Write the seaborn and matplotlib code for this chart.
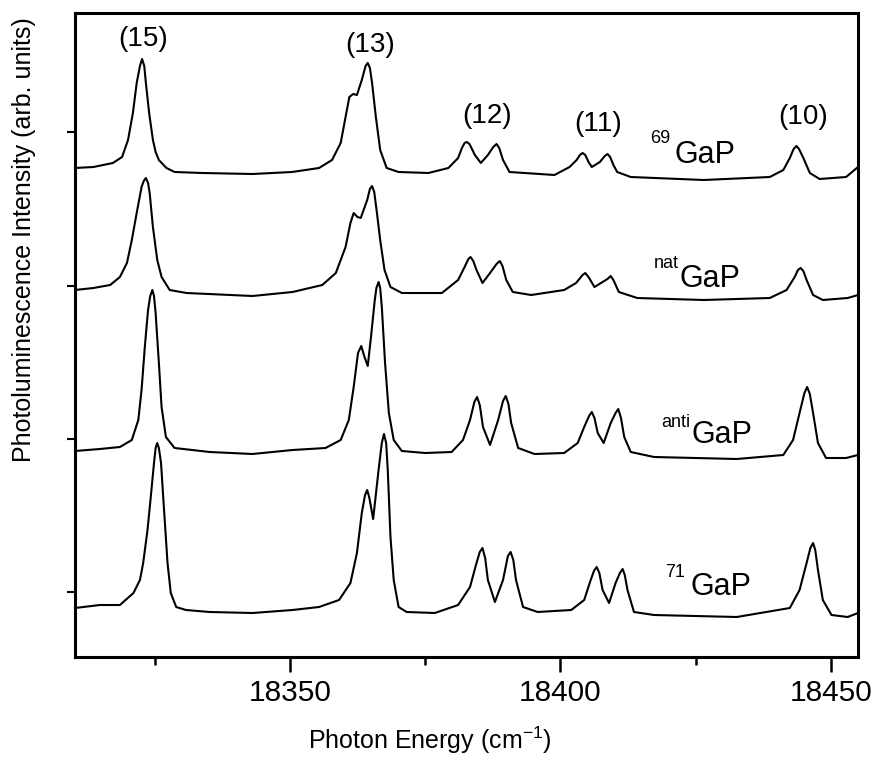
"""
plot.py
----------------------------------
Stacked photoluminescence spectra of isotopically different GaP
samples (69GaP, natGaP, antiGaP, 71GaP) with the bound-exciton
lines (15) ... (10) labelled.
"""

import pandas as pd
import matplotlib
matplotlib.use("Agg")
import matplotlib.pyplot as plt
from matplotlib.ticker import MultipleLocator
import seaborn as sns

# --------------------------------------------------------------------------
# Data (intensity in arb. units above each baseline)
# --------------------------------------------------------------------------
SAMPLES = ["69", "nat", "anti", "71"]
OFFSETS = [487, 365, 206, 49]

E_69 = [18310.3, 18313.7, 18317.3, 18319.0, 18320.1, 18321.0, 18321.7, 18322.3, 18322.7, 18323.1,
        18323.4, 18324.0, 18324.7, 18325.2, 18325.8, 18327.2, 18328.7, 18333.9, 18343.1, 18350.4,
        18355.4, 18357.8, 18359.4, 18360.3, 18361.0, 18361.7, 18362.4, 18363.3, 18364.0, 18364.4,
        18364.8, 18365.2, 18365.9, 18366.7, 18367.9, 18370.1, 18375.6, 18379.3, 18381.1, 18381.8,
        18382.3, 18382.7, 18383.2, 18384.2, 18385.3, 18386.6, 18387.6, 18388.2, 18388.7, 18389.4,
        18390.6, 18393.4, 18398.9, 18401.7, 18403.0, 18403.6, 18404.1, 18404.6, 18405.2, 18405.8,
        18407.3, 18408.2, 18408.7, 18409.2, 18409.8, 18410.5, 18413.0, 18426.5, 18438.7, 18441.2,
        18442.4, 18443.1, 18443.6, 18444.1, 18444.9, 18446.1, 18447.9, 18452.8, 18455.0]
I_69 = [2, 3, 7, 13, 30, 57, 87, 104, 111, 104,
        87, 57, 30, 18, 10, 2, -2, -3, -4, -2,
        2, 10, 27, 53, 73, 76, 75, 90, 104, 107,
        102, 87, 53, 20, 2, -2, -3, 2, 12, 22,
        27, 28, 26, 15, 7, 15, 23, 26, 22, 10,
        -2, -3, -5, 3, 10, 15, 17, 15, 8, 3,
        8, 14, 16, 13, 5, -2, -7, -10, -7, 0,
        12, 21, 24, 21, 12, -3, -9, -7, 3]

E_NAT = [18310.3, 18313.7, 18316.8, 18318.6, 18319.9, 18320.8, 18321.7, 18322.6, 18323.0, 18323.4,
         18323.8, 18324.1, 18324.7, 18325.5, 18326.3, 18327.8, 18330.9, 18343.1, 18350.5, 18356.0,
         18358.5, 18360.3, 18361.2, 18361.8, 18362.5, 18363.1, 18364.3, 18364.8, 18365.2, 18365.6,
         18366.1, 18366.7, 18367.5, 18368.6, 18370.7, 18378.1, 18381.1, 18382.3, 18383.0, 18383.4,
         18383.9, 18384.5, 18385.6, 18387.0, 18388.2, 18388.8, 18389.3, 18390.0, 18391.2, 18394.6,
         18400.7, 18402.9, 18404.1, 18404.6, 18405.2, 18406.3, 18408.7, 18409.3, 18409.8, 18410.8,
         18414.2, 18426.5, 18438.7, 18441.8, 18443.3, 18443.9, 18444.4, 18444.9, 18445.5, 18446.7,
         18448.5, 18453.1, 18455.0]
I_NAT = [2, 4, 7, 15, 29, 52, 79, 105, 111, 114,
         109, 99, 65, 32, 15, 2, -1, -4, 0, 7,
         19, 45, 69, 79, 75, 74, 92, 103, 106, 100,
         79, 52, 22, 5, -1, -1, 12, 25, 33, 35,
         31, 22, 9, 19, 28, 31, 26, 12, 0, -3,
         2, 9, 17, 19, 15, 5, 13, 16, 12, 0,
         -6, -8, -6, 2, 15, 22, 24, 21, 12, -3,
         -8, -6, -3]

E_ANTI = [18310.3, 18314.9, 18318.6, 18320.8, 18322.0, 18322.6, 18323.2, 18323.8, 18324.2, 18324.6,
          18324.9, 18325.2, 18325.8, 18326.3, 18327.1, 18328.7, 18335.2, 18343.1, 18350.5, 18356.6,
          18359.4, 18360.9, 18361.8, 18362.6, 18363.2, 18363.8, 18364.4, 18365.0, 18365.7, 18366.0,
          18366.4, 18366.7, 18367.0, 18367.6, 18368.3, 18369.2, 18370.7, 18375.0, 18379.9, 18382.0,
          18383.3, 18384.1, 18384.6, 18385.1, 18385.7, 18387.0, 18388.5, 18389.4, 18389.9, 18390.4,
          18390.9, 18392.2, 18395.2, 18400.7, 18403.2, 18404.4, 18405.3, 18405.8, 18406.3, 18406.9,
          18408.0, 18409.3, 18410.2, 18410.7, 18411.2, 18411.8, 18413.0, 18417.3, 18432.6, 18441.2,
          18443.0, 18444.2, 18445.1, 18445.6, 18446.1, 18446.7, 18447.6, 18449.1, 18452.8, 18455.0]
I_ANTI = [0, 2, 4, 11, 31, 61, 104, 141, 155, 161,
          155, 138, 88, 44, 14, 3, -1, -3, 1, 3,
          11, 31, 64, 98, 105, 94, 85, 114, 151, 163,
          169, 163, 144, 88, 38, 11, 0, -2, -1, 11,
          31, 49, 54, 46, 24, 6, 31, 50, 55, 47,
          28, 3, -3, -2, 8, 24, 35, 39, 33, 18,
          8, 28, 38, 42, 33, 14, -1, -6, -8, -4,
          11, 38, 58, 64, 57, 38, 8, -7, -7, -4]

E_71 = [18310.3, 18314.9, 18318.6, 18321.1, 18322.3, 18322.9, 18323.7, 18324.3, 18324.9, 18325.2,
        18325.5, 18325.8, 18326.2, 18326.6, 18327.0, 18327.4, 18328.0, 18329.0, 18330.8, 18335.2,
        18343.1, 18350.5, 18355.4, 18359.1, 18361.2, 18362.4, 18363.3, 18363.9, 18364.3, 18364.7,
        18365.4, 18366.4, 18367.0, 18367.4, 18367.8, 18368.1, 18368.6, 18369.2, 18370.1, 18371.6,
        18376.8, 18381.1, 18383.3, 18384.5, 18385.1, 18385.6, 18386.1, 18386.6, 18387.9, 18389.4,
        18390.3, 18390.8, 18391.3, 18391.8, 18393.1, 18395.8, 18402.0, 18404.4, 18405.6, 18406.2,
        18406.7, 18407.2, 18407.8, 18409.0, 18410.2, 18411.0, 18411.5, 18411.9, 18412.4, 18413.6,
        18417.3, 18432.6, 18442.4, 18444.2, 18445.5, 18446.2, 18446.7, 18447.1, 18447.6, 18448.5,
        18450.1, 18453.1, 18455.0]
I_71 = [0, 3, 3, 15, 28, 45, 78, 111, 145, 160,
        165, 160, 145, 111, 78, 45, 15, 1, -2, -4,
        -5, -2, 1, 8, 25, 55, 95, 113, 118, 110,
        89, 138, 165, 174, 165, 138, 71, 28, 1, -4,
        -5, 3, 21, 45, 56, 60, 50, 28, 6, 28,
        52, 56, 48, 28, 1, -4, -2, 8, 28, 37,
        41, 35, 18, 5, 25, 35, 39, 33, 18, -4,
        -7, -9, 0, 18, 45, 60, 65, 58, 38, 8,
        -7, -9, -5]

ENERGIES = [E_69, E_NAT, E_ANTI, E_71]
INTENSITIES = [I_69, I_NAT, I_ANTI, I_71]

PEAK_LABELS = ["(15)", "(13)", "(12)", "(11)", "(10)"]

# --------------------------------------------------------------------------
# Layout
# --------------------------------------------------------------------------
XLIM = (18310.3, 18455.0)
YLIM = (0, 644)
PEAK_LABEL_POS = [(18322.8, 618), (18364.9, 612), (18386.5, 541),
                  (18407.0, 533), (18444.8, 540)]
# (superscript right edge x, superscript baseline y, GaP left x, GaP baseline y)
NAME_POS = [(18420.3, 514, 18421.0, 494),
            (18421.9, 389, 18422.1, 370),
            (18424.0, 230, 18424.3, 214),
            (18423.0, 80, 18424.0, 62)]


def build_frame() -> pd.DataFrame:
    frames = []
    for name, off, e, i in zip(SAMPLES, OFFSETS, ENERGIES, INTENSITIES):
        frames.append(pd.DataFrame({
            "energy": e,
            "signal": [v + off for v in i],
            "sample": name,
        }))
    return pd.concat(frames, ignore_index=True)


def main():
    sns.set_style("ticks", {"axes.edgecolor": "black", "text.color": "black",
                            "axes.labelcolor": "black", "xtick.color": "black",
                            "ytick.color": "black"})
    plt.rcParams["font.family"] = ["Liberation Sans", "DejaVu Sans"]
    plt.rcParams["mathtext.default"] = "regular"

    df = build_frame()

    fig = plt.figure(figsize=(8.81, 7.70), dpi=100)
    ax = fig.add_axes([75 / 881, 113 / 770, 783 / 881, 644 / 770])

    for name in SAMPLES:
        sns.lineplot(data=df[df["sample"] == name], x="energy", y="signal",
                     sort=False, estimator=None, color="black", lw=1.5, ax=ax)

    ax.set_xlim(*XLIM)
    ax.set_ylim(*YLIM)

    ax.xaxis.set_major_locator(MultipleLocator(50))
    ax.xaxis.set_minor_locator(MultipleLocator(25))
    ax.set_yticks([65, 218, 371, 525])
    ax.set_yticklabels([])
    ax.tick_params(axis="x", which="major", length=11, width=1.8,
                   labelsize=21.5, pad=5, direction="out")
    ax.tick_params(axis="x", which="minor", length=6, width=1.8,
                   direction="out")
    ax.tick_params(axis="y", which="major", length=6, width=1.5,
                   direction="out")

    for sp in ax.spines.values():
        sp.set_linewidth(2.2)
        sp.set_color("black")

    ax.set_xlabel("Photon Energy (cm$^{-1}$)", fontsize=18)
    ax.set_ylabel("Photoluminescence Intensity (arb. units)", fontsize=18)
    ax.xaxis.set_label_coords(0.453, -0.105)
    ax.yaxis.set_label_coords(-0.05, 0.6475)

    for text, (x, y) in zip(PEAK_LABELS, PEAK_LABEL_POS):
        ax.text(x, y, text, fontsize=20, ha="center", va="center")

    for name, (sx, sy, gx, gy) in zip(SAMPLES, NAME_POS):
        ax.text(sx, sy, name, fontsize=13, ha="right", va="baseline")
        ax.text(gx, gy, "GaP", fontsize=22, ha="left", va="baseline")

    fig.savefig("out.png", dpi=100)
    plt.close(fig)


if __name__ == "__main__":
    main()
